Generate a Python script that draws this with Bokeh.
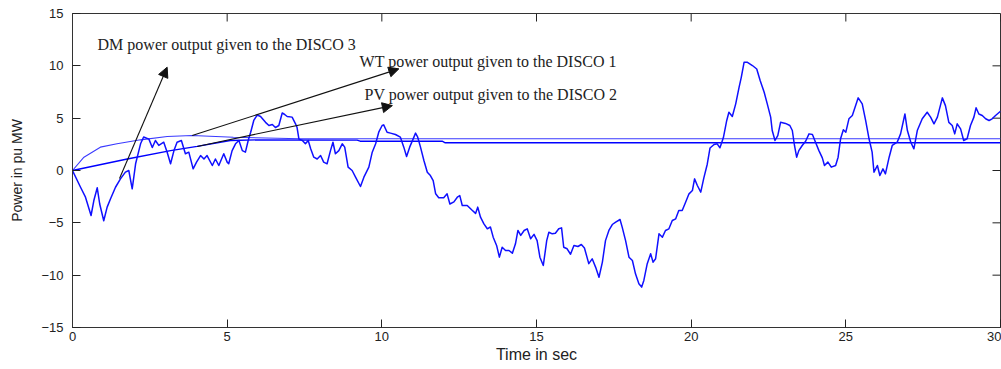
import math
from bokeh.plotting import figure
from bokeh.models import Range1d, LinearAxis, FixedTicker, Arrow, NormalHead, ColumnDataSource
from bokeh.core.properties import value
from bokeh.embed import file_html
from bokeh.resources import INLINE

# Net power fluctuation (pu MW) versus time (s)
time_s = [
    0.00, 0.26, 0.42, 0.60, 0.69, 0.80, 0.88, 1.01, 1.12, 1.23, 1.39, 1.55, 1.71, 1.82, 1.93,
    2.04, 2.20, 2.30, 2.47, 2.58, 2.68, 2.79, 2.95, 3.06, 3.17, 3.28, 3.38, 3.52, 3.65, 3.76,
    3.90, 4.01, 4.14, 4.25, 4.35, 4.52, 4.62, 4.73, 4.89, 5.00, 5.05, 5.16, 5.27, 5.38, 5.49,
    5.59, 5.68, 5.76, 5.86, 5.97, 6.08, 6.24, 6.35, 6.46, 6.56, 6.67, 6.78, 6.86, 6.94, 7.10,
    7.21, 7.26, 7.32, 7.43, 7.53, 7.62, 7.70, 7.80, 7.91, 8.02, 8.12, 8.23, 8.34, 8.42, 8.50,
    8.61, 8.72, 8.80, 8.91, 9.04, 9.15, 9.31, 9.42, 9.58, 9.69, 9.80, 9.90, 10.01, 10.06, 10.17,
    10.28, 10.44, 10.60, 10.71, 10.80, 10.90, 11.01, 11.09, 11.16, 11.25, 11.36, 11.47, 11.57,
    11.66, 11.74, 11.84, 12.00, 12.11, 12.20, 12.33, 12.44, 12.52, 12.60, 12.76, 12.92, 13.03,
    13.10, 13.19, 13.30, 13.41, 13.51, 13.60, 13.71, 13.80, 13.89, 14.00, 14.11, 14.22, 14.32,
    14.40, 14.49, 14.60, 14.70, 14.81, 14.92, 15.02, 15.11, 15.22, 15.33, 15.40, 15.51, 15.61,
    15.72, 15.81, 15.88, 15.99, 16.10, 16.21, 16.34, 16.45, 16.55, 16.69, 16.80, 16.91, 17.02,
    17.13, 17.23, 17.34, 17.45, 17.56, 17.70, 17.77, 17.88, 17.99, 18.10, 18.20, 18.31, 18.40,
    18.47, 18.58, 18.69, 18.77, 18.85, 18.96, 19.07, 19.17, 19.28, 19.39, 19.50, 19.60, 19.71,
    19.82, 19.93, 20.04, 20.11, 20.20, 20.31, 20.41, 20.52, 20.61, 20.74, 20.84, 20.93, 21.04,
    21.15, 21.22, 21.33, 21.44, 21.55, 21.62, 21.71, 21.82, 21.98, 22.12, 22.23, 22.36, 22.46,
    22.57, 22.62, 22.71, 22.80, 22.89, 23.05, 23.19, 23.27, 23.34, 23.41, 23.48, 23.59, 23.70,
    23.81, 23.92, 24.02, 24.13, 24.24, 24.31, 24.42, 24.53, 24.67, 24.75, 24.83, 24.92, 25.00,
    25.10, 25.21, 25.40, 25.53, 25.64, 25.75, 25.85, 25.91, 26.02, 26.10, 26.20, 26.28, 26.40,
    26.50, 26.66, 26.77, 26.91, 26.99, 27.10, 27.20, 27.31, 27.47, 27.63, 27.74, 27.85, 27.96,
    28.12, 28.22, 28.33, 28.44, 28.52, 28.60, 28.71, 28.81, 28.92, 29.03, 29.14, 29.21, 29.30,
    29.41, 29.52, 29.63, 29.73, 29.84, 30.00,
]
power_pu = [
    0.00, -1.60, -2.55, -4.30, -2.87, -1.65, -3.20, -4.80, -3.50, -2.70, -1.60, -0.80, -0.16, 0.00, -1.75,
    0.64, 2.55, 3.20, 3.00, 2.20, 2.87, 2.40, 2.70, 1.75, 0.64, 1.90, 2.70, 2.87, 1.60, 1.75,
    0.16, 0.80, 1.43, 1.10, 1.43, 0.48, 1.10, 0.48, 1.60, 0.80, 0.64, 1.90, 2.55, 2.87, 1.90,
    1.75, 2.87, 3.66, 4.78, 5.30, 5.16, 4.60, 4.30, 4.40, 4.10, 4.30, 5.50, 5.35, 5.16, 5.10,
    4.46, 4.10, 3.00, 2.87, 2.55, 2.87, 2.07, 1.27, 1.10, 1.43, 0.80, 0.64, 1.90, 2.70, 1.60,
    1.90, 2.55, 2.23, 0.32, 0.00, -0.64, -1.53, -0.64, 0.32, 1.75, 2.55, 3.66, 4.30, 4.36, 3.66,
    3.57, 3.44, 3.18, 2.23, 1.34, 2.23, 3.00, 3.57, 3.18, 2.23, 0.96, -0.16, -0.48,
    -0.96, -2.23, -2.60, -2.60, -2.23, -3.20, -3.00, -2.55, -2.40, -3.34, -3.34, -3.80, -4.10,
    -3.50, -4.46, -5.10, -5.57, -5.40, -6.37, -7.16, -8.28, -7.33, -7.64, -7.64, -7.90, -7.00,
    -5.73, -6.20, -5.73, -5.57, -6.52, -6.10, -6.70, -8.28, -9.07, -6.70, -5.90, -6.05, -6.00,
    -5.57, -5.48, -7.33, -7.48, -8.00, -7.16, -7.26, -7.07, -7.40, -8.90, -8.44, -9.23, -10.20,
    -8.75, -6.70, -5.73, -5.16, -4.93, -4.68, -5.41, -6.70, -8.28, -8.60, -9.87, -10.82, -11.14,
    -10.50, -8.90, -7.96, -8.76, -8.43, -6.05, -6.37, -5.73, -5.57, -4.78, -4.62, -3.82, -3.82,
    -3.03, -2.23, -1.91, -0.80, -1.43, -2.07, -0.70, 0.60, 2.15, 2.48, 2.55, 2.17, 3.12,
    4.78, 5.57, 5.16, 6.37, 7.96, 8.90, 10.34, 10.34, 10.03, 9.70, 8.60, 7.48, 6.37,
    5.10, 3.82, 2.87, 3.34, 4.60, 4.50, 4.30, 3.82, 2.39, 1.27, 1.90, 2.39, 2.80,
    3.50, 3.44, 2.70, 1.90, 1.21, 0.48, 0.80, 0.32, 0.48, 1.27, 3.03, 3.89, 3.66,
    4.94, 5.25, 6.94, 6.37, 4.78, 3.03, 1.75, -0.16, 0.48, -0.48, 0.16, -0.32, 1.27,
    2.39, 2.70, 3.50, 5.40, 3.82, 2.70, 2.07, 3.82, 4.94, 5.57, 5.10, 4.46, 5.10,
    6.94, 6.20, 4.60, 4.30, 3.50, 4.46, 3.98, 2.87, 3.03, 4.30, 5.10, 5.99, 5.40,
    5.25, 4.94, 4.78, 4.94, 5.25, 5.66,
]

# WT share delivered to DISCO 1
wt_time = [0.00, 0.37, 0.90, 1.44, 2.20, 3.06, 3.87, 5.20, 7.37, 30.00]
wt_power = [0.00, 1.27, 2.23, 2.55, 2.93, 3.25, 3.34, 3.18, 3.03, 3.03]

# PV share delivered to DISCO 2
pv_time = [0.00, 1.77, 3.17, 4.03, 5.10, 6.00, 9.20, 9.30, 11.95, 12.05, 30.00]
pv_power = [0.00, 1.10, 1.90, 2.30, 2.87, 2.93, 2.90, 2.80, 2.80, 2.65, 2.65]

# Callout texts and arrows (start -> tip), in data units
note_texts = [
    "DM power output given to the DISCO 3",
    "WT power output given to the DISCO 1",
    "PV power output given to the DISCO 2",
]
note_x = [0.81, 9.28, 9.44]
note_y = [12.03, 10.41, 7.26]
arrow_x0 = [1.52, 3.87, 4.03]
arrow_y0 = [-0.76, 3.34, 2.30]
arrow_x1 = [3.06, 10.55, 10.34]
arrow_y1 = [9.87, 9.71, 6.20]

x_ticks = [0, 5, 10, 15, 20, 25, 30]
y_ticks = [-15, -10, -5, 0, 5, 10, 15]
x_min, x_max = 0, 30
y_min, y_max = -15, 15

p = figure(
    width=1001, height=369,
    x_range=Range1d(x_min, x_max), y_range=Range1d(y_min, y_max),
    output_backend="svg", toolbar_location=None,
    x_axis_type=None, y_axis_type=None,
    min_border_left=72, min_border_right=1, min_border_top=13, min_border_bottom=42,
)
p.background_fill_color = "white"
p.border_fill_color = "white"
p.outline_line_color = "#333333"
p.outline_line_width = 1
p.xgrid.visible = False
p.ygrid.visible = False

tick_font = "Liberation Sans"
TICK_LEN = 8

def style_axis(ax):
    ax.axis_line_color = "#333333"
    ax.major_tick_line_color = "#222222"
    ax.major_tick_in = TICK_LEN
    ax.major_tick_out = 0
    ax.minor_tick_line_color = None
    ax.major_label_text_font = tick_font
    ax.major_label_text_font_size = "13px"
    ax.major_label_text_color = "#222222"
    ax.axis_label_text_font = tick_font
    ax.axis_label_text_font_style = "normal"
    ax.axis_label_text_color = "#222222"

xb = LinearAxis(ticker=FixedTicker(ticks=x_ticks), axis_label="Time in sec")
style_axis(xb)
xb.major_label_standoff = 4
xb.axis_label_standoff = 2
xb.axis_label_text_font_size = "16px"
p.add_layout(xb, "below")

yl = LinearAxis(ticker=FixedTicker(ticks=y_ticks), axis_label="Power in pu MW")
style_axis(yl)
yl.major_label_standoff = 9
yl.axis_label_standoff = 13
yl.axis_label_text_font_size = "14px"
p.add_layout(yl, "left")

# Mirrored inward ticks on the top and right edges of the box
p.ray(x=x_ticks, y=[y_max] * len(x_ticks), length=TICK_LEN, length_units="screen",
      angle=-math.pi / 2, line_color="#222222", line_width=1)
p.ray(x=[x_max] * len(y_ticks), y=y_ticks, length=TICK_LEN, length_units="screen",
      angle=math.pi, line_color="#222222", line_width=1)

# Curves
p.line(wt_time, wt_power, line_color="#3a3aff", line_width=1.1)
p.line(pv_time, pv_power, line_color="#0000ff", line_width=1.4)
p.line(time_s, power_pu, line_color="#1010ff", line_width=1.5, line_join="round")

# Callout arrows
arrow_src = ColumnDataSource(dict(x0=arrow_x0, y0=arrow_y0, x1=arrow_x1, y1=arrow_y1))
p.add_layout(Arrow(
    source=arrow_src, x_start="x0", y_start="y0", x_end="x1", y_end="y1",
    line_color="#111111", line_width=1.1,
    end=NormalHead(size=10, fill_color="#111111", line_color="#111111"),
))

# Callout texts
p.text(
    x=note_x, y=note_y, text=note_texts,
    text_font=value("Liberation Serif"), text_font_size="16px",
    text_color="#222222", text_align="left", text_baseline="middle",
)

open("out.html", "w").write(file_html(p, INLINE))
